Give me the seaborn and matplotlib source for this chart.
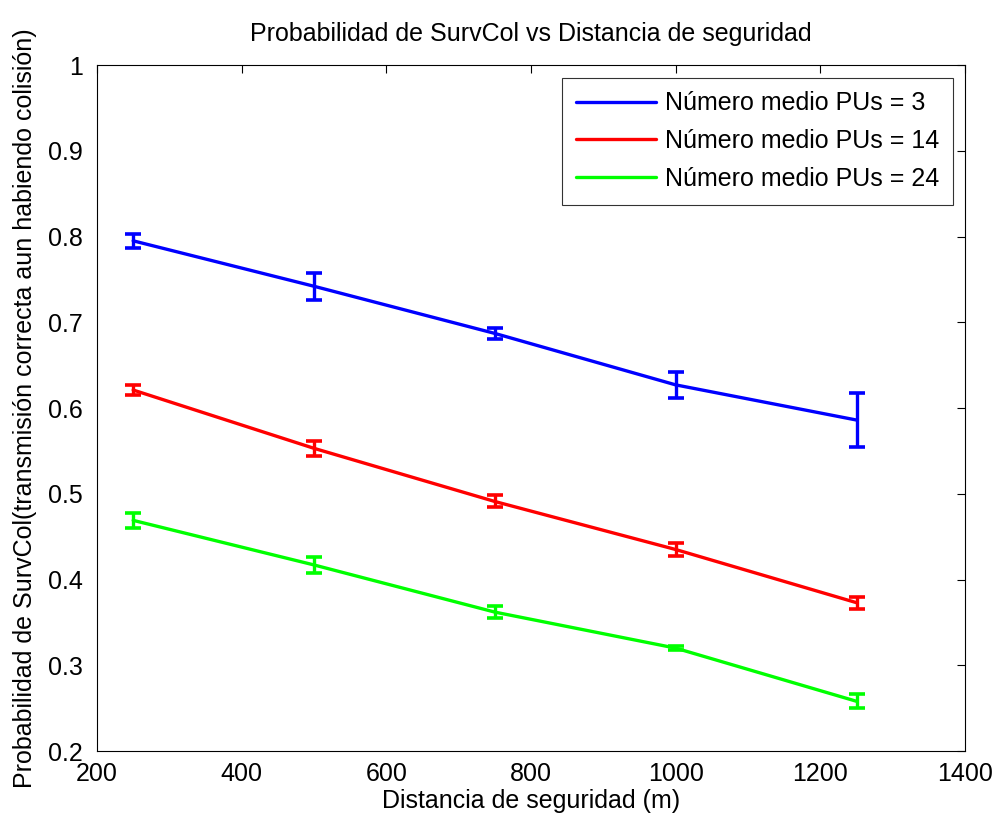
import matplotlib
matplotlib.use("Agg")
import matplotlib.pyplot as plt
import seaborn as sns
import pandas as pd
import numpy as np

distancias = [250, 500, 750, 1000, 1250]
series_labels = ["Número medio PUs = 3", "Número medio PUs = 14", "Número medio PUs = 24"]
prob_pu3 = [0.795, 0.742, 0.687, 0.627, 0.586]
prob_pu14 = [0.621, 0.553, 0.491, 0.435, 0.373]
prob_pu24 = [0.469, 0.417, 0.362, 0.320, 0.258]
err_pu3 = [0.008, 0.016, 0.006, 0.015, 0.031]
err_pu14 = [0.006, 0.009, 0.007, 0.008, 0.007]
err_pu24 = [0.009, 0.009, 0.007, 0.002, 0.008]
colors = ["#0000ff", "#ff0000", "#00ff00"]
xticks = [200, 400, 600, 800, 1000, 1200, 1400]
yticks = [0.2, 0.3, 0.4, 0.5, 0.6, 0.7, 0.8, 0.9, 1.0]
ytick_labels = ["0.2", "0.3", "0.4", "0.5", "0.6", "0.7", "0.8", "0.9", "1"]

sns.set_style("white")
plt.rcParams['font.family'] = ['Liberation Sans', 'DejaVu Sans']
plt.rcParams['text.color'] = 'black'
plt.rcParams['axes.labelcolor'] = 'black'

FS = 18

rows = []
for lab, vals, errs in zip(series_labels, [prob_pu3, prob_pu14, prob_pu24], [err_pu3, err_pu14, err_pu24]):
    for d, v, e in zip(distancias, vals, errs):
        rows.append({"Distancia": d, "Prob": v, "Err": e, "Serie": lab})
df = pd.DataFrame(rows)

fig = plt.figure(figsize=(9.96, 8.19), dpi=100)
ax = fig.add_axes([0.0974, 0.083, 0.8715, 0.8376])

sns.lineplot(data=df, x="Distancia", y="Prob", hue="Serie", palette=colors,
             hue_order=series_labels, linewidth=2.4, ax=ax, legend=True)
for lab, c in zip(series_labels, colors):
    sub = df[df["Serie"] == lab]
    ax.errorbar(sub["Distancia"], sub["Prob"], yerr=sub["Err"], fmt='none',
                ecolor=c, elinewidth=2.4, capsize=5.5, capthick=2.6)

ax.set_xlim(200, 1400)
ax.set_ylim(0.2, 1.0)
ax.set_xticks(xticks)
ax.set_xticklabels([str(t) for t in xticks])
ax.set_yticks(yticks)
ax.set_yticklabels(ytick_labels)
ax.tick_params(direction='in', length=6, width=0.8, top=True, right=True,
               labelsize=FS, colors='black', labelcolor='black')
ax.tick_params(axis='y', pad=10)
ax.tick_params(axis='x', pad=8)
for s in ax.spines.values():
    s.set_visible(True)
    s.set_color('black')
    s.set_linewidth(0.8)

ax.set_title("Probabilidad de SurvCol vs Distancia de seguridad", fontsize=FS, pad=17, color='black')
ax.set_xlabel("Distancia de seguridad (m)", fontsize=FS, labelpad=2)
ax.set_ylabel("Probabilidad de SurvCol(transmisión correcta aun habiendo colisión)", fontsize=FS, labelpad=8)

leg = ax.legend(loc="upper right", fontsize=FS, frameon=True, fancybox=False,
                edgecolor='black', handlelength=3.2, borderaxespad=0.5, labelspacing=0.55,
                borderpad=0.55, handletextpad=0.35)
leg.get_frame().set_linewidth(0.8)
for h in leg.get_lines():
    h.set_linewidth(2.4)
for t in leg.get_texts():
    t.set_color('black')

fig.savefig("out.png", dpi=100, facecolor='white')
